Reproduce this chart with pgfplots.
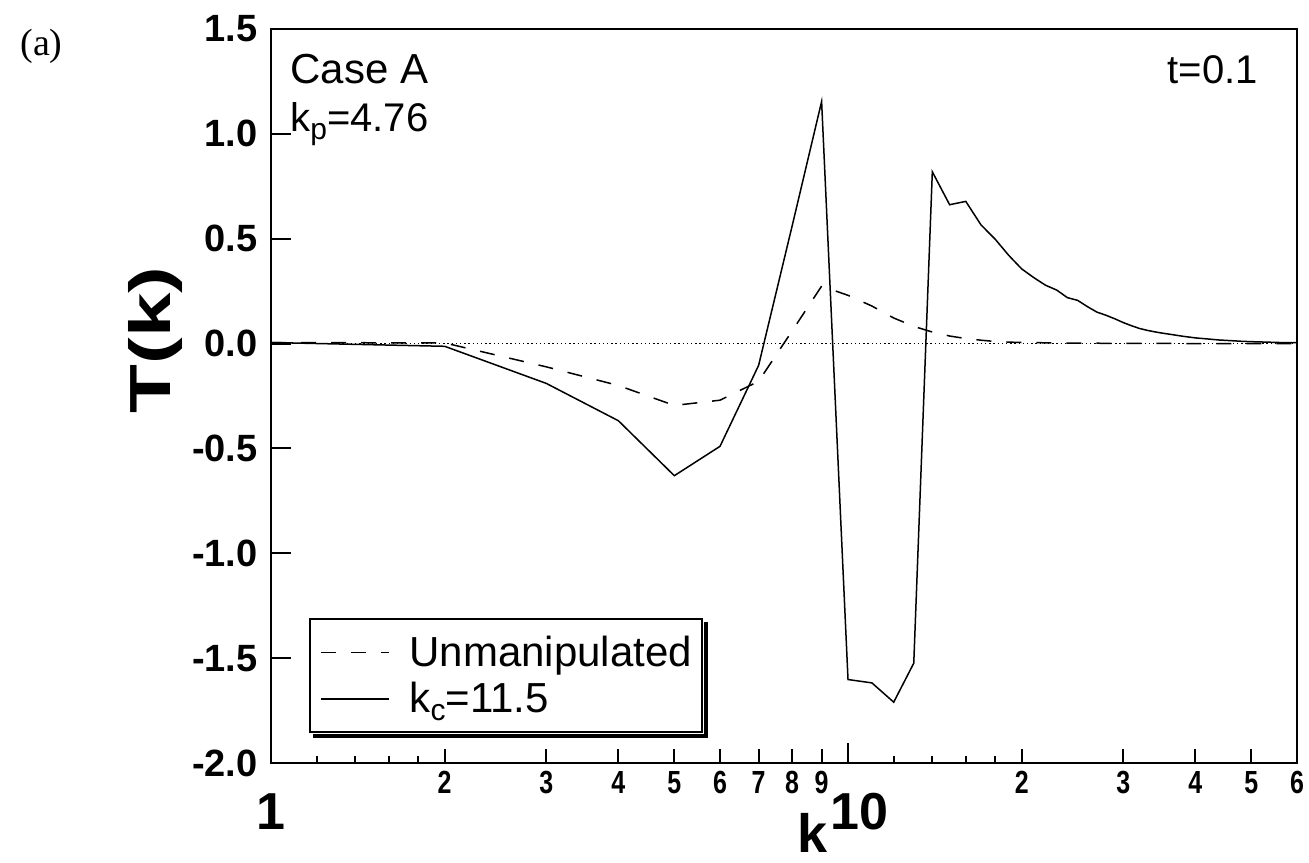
\documentclass[border=0pt]{standalone}
\usepackage{fontspec}
\setmainfont{Liberation Sans}
\newfontfamily\serifa{Liberation Serif}
\newfontfamily\narrowfont[FakeStretch=0.78]{Liberation Sans}
\usepackage{pgfplots}
\pgfplotsset{compat=1.18}
\begin{document}
\begin{tikzpicture}
\useasboundingbox (0,0) rectangle (654.5pt,431pt);
\begin{axis}[
  at={(135.5pt,49.5pt)}, anchor=south west,
  scale only axis, width=513pt, height=367pt,
  xmode=log, xmin=1, xmax=60, ymin=-2, ymax=1.5,
  axis line style={line width=1.4pt},
  every tick/.style={line width=1pt, black},
  tick align=inside, xtick pos=bottom, ytick pos=left,
  major tick length=10pt, minor tick length=3.5pt,
  xtick={1,10}, xticklabels={1,\hspace*{11pt}10},
  xticklabel style={font=\bfseries\fontsize{26}{26}\selectfont, anchor=north, inner sep=0pt, yshift=-15pt},
  minor xtick={1.2,1.4,1.6,1.8,12,14,16,18},
  extra x ticks={2,3,4,5,6,7,8,9,20,30,40,50,60},
  extra x tick labels={2,3,4,5,6,7,8,9,2,3,4,5,6},
  extra x tick style={major tick length=7pt, xticklabel style={font=\narrowfont\bfseries\fontsize{16}{16}\selectfont, yshift=11pt}},
  ytick={-2,-1.5,-1,-0.5,0,0.5,1,1.5},
  yticklabels={-2.0,-1.5,-1.0,-0.5,0.0,0.5,1.0,1.5},
  yticklabel style={font=\bfseries\fontsize{19}{19}\selectfont, anchor=east, inner sep=0pt, xshift=-6.5pt},
  legend style={name=leg, at={(rel axis cs:0.037,0.1975)}, anchor=north west, draw=black, line width=1.1pt, fill=white,
    font=\fontsize{21}{22}\selectfont, inner xsep=3pt, inner ysep=6.25pt, row sep=2.5pt, cells={anchor=west}},
  legend image code/.code={\draw[#1, line width=0.75pt] (2pt,0pt) -- (36pt,0pt); \path (0pt,0pt) (44pt,0pt);},
  clip=true,
]
\addplot[black, line width=0.7pt, dash pattern=on 0.7pt off 1.4pt, forget plot] coordinates {(1,0) (60,0)};
\addplot[black, line width=0.75pt, dash pattern=on 7.5pt off 7.5pt] coordinates {
(1,0.005) (2,0.003) (3,-0.111) (4,-0.2) (5,-0.295) (6,-0.27) (7,-0.18) (8,0.06) (9,0.274)
(10,0.23) (11,0.179) (12,0.122) (13,0.082) (14,0.055) (15,0.036) (16,0.024) (17,0.016)
(18,0.01) (19,0.007) (20,0.005) (25,0.002) (30,0.001) (40,0.0) (60,0.0)};
\addlegendentry{Unmanipulated}
\addplot[black, line width=0.75pt] coordinates {
(1,0.005) (2,-0.013) (3,-0.19) (4,-0.368) (5,-0.63) (6,-0.49) (7,-0.104) (8,0.56) (9,1.154)
(10,-1.602) (11,-1.618) (12,-1.71) (13,-1.524) (14,0.819) (15,0.662) (16,0.678) (17,0.566)
(18,0.497) (19,0.42) (20,0.356) (21,0.314) (22,0.278) (23,0.255) (24,0.219) (25,0.206)
(26,0.176) (27,0.15) (28,0.135) (29,0.118) (30,0.10) (31,0.085) (32,0.072) (33,0.063)
(34,0.056) (35,0.05) (36,0.045) (37,0.04) (38,0.035) (39,0.031) (40,0.027) (42,0.022)
(44,0.017) (46,0.014) (48,0.011) (50,0.009) (53,0.007) (56,0.005) (60,0.004)};
\addlegendentry{k\raisebox{-0.35ex}{\fontsize{15}{15}\selectfont c}=11.5}
\node[anchor=base west, inner sep=0pt, font=\fontsize{21}{21}\selectfont] at (rel axis cs:0.0185,0.926) {Case A};
\node[anchor=base west, inner sep=0pt, font=\fontsize{20}{20}\selectfont] at (rel axis cs:0.0185,0.860) {k\raisebox{-0.35ex}{\fontsize{15}{15}\selectfont p}=4.76};
\node[anchor=base east, inner sep=0pt, font=\fontsize{20}{20}\selectfont] at (rel axis cs:0.962,0.926) {t=0.1};
\end{axis}
\draw[line width=1.6pt, black] ([xshift=1.9pt,yshift=-1.4pt]leg.south west) -- ([xshift=1.4pt,yshift=-1.4pt]leg.south east) -- ([xshift=1.4pt,yshift=-1.9pt]leg.north east);
\node[anchor=base west, inner sep=0pt, font=\serifa\fontsize{19}{19}\selectfont] at (10pt,403pt) {(a)};
\node[rotate=90, inner sep=0pt, font=\bfseries\fontsize{29}{29}\selectfont] at (77.5pt,261pt) {\scalebox{1.38}[1]{T(k)}};
\node[anchor=base, inner sep=0pt, font=\bfseries\fontsize{27}{27}\selectfont] at (406.5pt,5pt) {k};
\end{tikzpicture}
\end{document}
